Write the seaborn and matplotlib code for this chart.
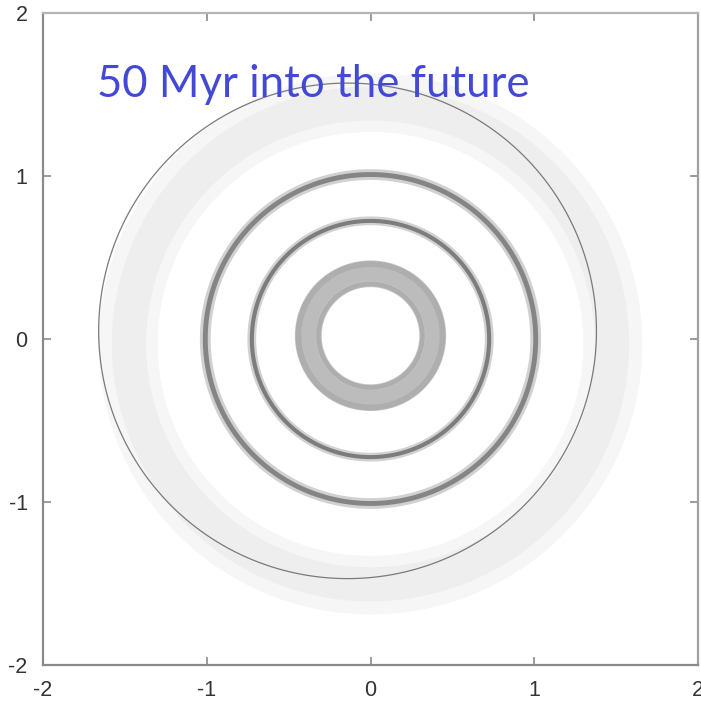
import numpy as np
import matplotlib
matplotlib.use("Agg")
import matplotlib.pyplot as plt
import seaborn as sns

# ---- data (units of the plot axes) ----
# soft annular bands of particles: centre, inner radius, outer radius, opacity
band_cx    = [0.00, 0.00, 0.00, 0.00, 0.00, 0.00, 0.00, 0.00, 0.00, 0.00]
band_cy    = [-0.03, -0.03, 0.00, 0.00, 0.00, 0.00, 0.02, 0.02, 0.02, 0.02]
band_rin   = [1.30, 1.37, 0.976, 0.994, 0.698, 0.712, 0.298, 0.303, 0.422, 0.335]
band_rout  = [1.66, 1.58, 1.042, 1.024, 0.752, 0.737, 0.462, 0.332, 0.458, 0.422]
band_alpha = [0.035, 0.030, 0.18, 0.36, 0.18, 0.40, 0.22, 0.12, 0.12, 0.05]

# thin sharp orbit line
orbit_cx, orbit_cy, orbit_r = -0.14, 0.05, 1.52

title_text = "50 Myr into the future"
ticks = [-2, -1, 0, 1, 2]
tick_labels = ["-2", "-1", "0", "1", "2"]

sns.set_style("ticks")
plt.rcParams["axes.unicode_minus"] = False
plt.rcParams["font.family"] = ["Liberation Sans", "DejaVu Sans"]

fig = plt.figure(figsize=(7.01, 7.12), dpi=100)
ax = fig.add_axes([43 / 701, 1 - 665 / 712, (698 - 43) / 701, (665 - 13) / 712])

theta = np.linspace(0, 2 * np.pi, 721)
for cx, cy, ri, ro, a in zip(band_cx, band_cy, band_rin, band_rout, band_alpha):
    xo = cx + ro * np.cos(theta)
    yo = cy + ro * np.sin(theta)
    xi = cx + ri * np.cos(theta[::-1])
    yi = cy + ri * np.sin(theta[::-1])
    ax.fill(np.concatenate([xo, xi]), np.concatenate([yo, yi]),
            color="black", alpha=a, lw=0)

sns.lineplot(x=orbit_cx + orbit_r * np.cos(theta),
             y=orbit_cy + orbit_r * np.sin(theta),
             sort=False, estimator=None, color="#7a7a7a", lw=0.9, ax=ax)

ax.set_xlim(-2, 2)
ax.set_ylim(-2, 2)
ax.set_xticks(ticks)
ax.set_xticklabels(tick_labels)
ax.set_yticks(ticks)
ax.set_yticklabels(tick_labels)
ax.tick_params(direction="in", length=6, width=1.2, color="#8a8a8a",
               labelsize=15.5, labelcolor="#333333", top=True, right=True,
               pad=11)
for side in ["left", "right", "top", "bottom"]:
    ax.spines[side].set_color("#8a8a8a")
    ax.spines[side].set_linewidth(1.6)
ax.spines["top"].set_color("#b5b5b5")
ax.spines["right"].set_color("#a0a0a0")

ax.text(0.082, 0.871, title_text, transform=ax.transAxes,
        fontsize=31.5, color="#4349d6", family=["Lato", "DejaVu Sans"],
        ha="left", va="baseline")

fig.savefig("out.png", dpi=100)
